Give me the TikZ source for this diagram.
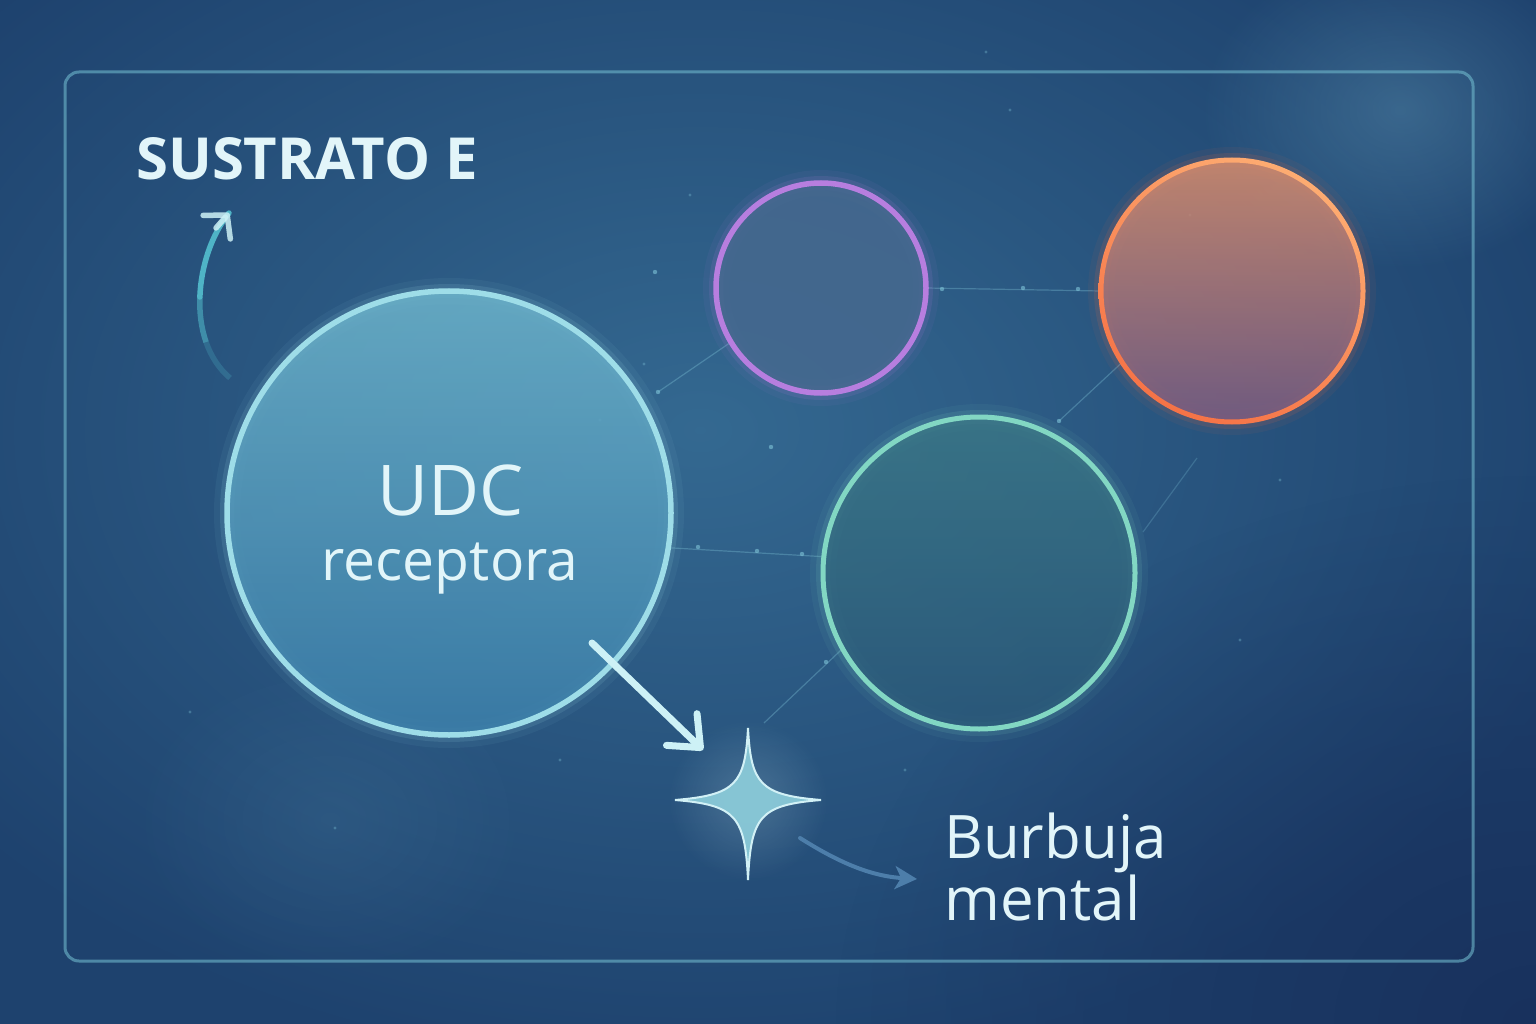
\documentclass[tikz,border=0pt]{standalone}
\usepackage{fontspec}
\setmainfont{Open Sans}
\usetikzlibrary{fadings,arrows.meta,shadings}
\pgfdeclarelayer{bg}
\pgfsetlayers{bg,main}
\tikzfading[name=softglow, inner color=transparent!0, outer color=transparent!100]
\definecolor{bgbase}{HTML}{1E426E}
\definecolor{bgglow}{HTML}{3A739A}
\definecolor{bgdark}{HTML}{162A56}
\definecolor{haze}{HTML}{6AA4C0}
\definecolor{framec}{HTML}{6FB8CC}
\definecolor{ringU}{HTML}{9EDDE8}
\definecolor{udcT}{HTML}{6BB1C9}
\definecolor{udcB}{HTML}{3B7EA9}
\definecolor{ringP}{HTML}{B77EDF}
\definecolor{fillP}{HTML}{46698F}
\definecolor{ringOa}{HTML}{FFB77A}
\definecolor{ringOb}{HTML}{F46A40}
\definecolor{fillOT}{HTML}{D98D6C}
\definecolor{fillOB}{HTML}{7C5C80}
\definecolor{ringG}{HTML}{82D7C3}
\definecolor{fillGT}{HTML}{3B7886}
\definecolor{fillGB}{HTML}{2A5878}
\definecolor{txt}{HTML}{E2F5F9}
\definecolor{lineC}{HTML}{7FC4D8}
\definecolor{arrL}{HTML}{CDF1F6}
\definecolor{arrT}{HTML}{4FB4C6}
\definecolor{arrD}{HTML}{4D7EAA}
\definecolor{starF}{HTML}{8ACAD8}
\definecolor{starE}{HTML}{D2F1F6}
\begin{document}
\begin{tikzpicture}[x=1pt,y=-1pt,
  bubble/.style={circle, inner sep=0pt, outer sep=0pt},
  faint/.style={draw=lineC, line width=1.2pt, opacity=0.35},
  dotc/.style={fill=lineC, opacity=0.6},
  lbl/.style={text=txt, inner sep=0pt},
  curvearr/.style={draw=arrT, line width=5.5pt},
]
\useasboundingbox (0,0) rectangle (1536,1024);

% ---------- bubbles ----------
\node[bubble, minimum size=444pt, draw=ringU, line width=5.5pt,
      top color=udcT, bottom color=udcB, fill opacity=0.88] (udc) at (449,513) {};
\node[bubble, minimum size=210pt, draw=ringP, line width=5.5pt,
      fill=fillP, fill opacity=0.85] (purple) at (821,288) {};
\node[bubble, minimum size=262pt, top color=fillOT, bottom color=fillOB,
      fill opacity=0.85] (orange) at (1232,291) {};
\shade[upper right=ringOa, upper left=ringOa!60!ringOb, lower left=ringOb,
       lower right=ringOb!70!ringOa, even odd rule]
  (orange.center) circle (133.5pt) (orange.center) circle (128.5pt);
\node[bubble, minimum size=312pt, draw=ringG, line width=5pt,
      top color=fillGT, bottom color=fillGB, fill opacity=0.8] (green) at (979,573) {};

% ---------- background layer ----------
\begin{pgfonlayer}{bg}
  \fill[bgbase] (0,0) rectangle (1536,1024);
  \fill[bgglow, path fading=softglow, opacity=0.8] (700,430) ellipse (950pt and 650pt);
  \fill[bgdark, path fading=softglow, opacity=0.7] (1536,1024) ellipse (700pt and 550pt);
  \fill[haze, path fading=softglow, opacity=0.35] (1400,110) ellipse (200pt and 160pt);
  \fill[haze, path fading=softglow, opacity=0.12] (330,820) ellipse (200pt and 160pt);
  % frame
  \draw[framec, line width=3pt, opacity=0.6, rounded corners=14pt] (65,72) rectangle (1473,961);
  % faint constellation lines
  \coordinate (p1) at (658,392);
  \coordinate (p2) at (1059,421);
  \coordinate (p3) at (764,723);
  \coordinate (p4) at (1197,458);
  \coordinate (p5) at (1143,532);
  \draw[faint] (purple.east) -- (orange.west);
  \draw[faint] (udc.-9) -- (green.174);
  \draw[faint] (p1) -- (purple.211);
  \draw[faint] (p2) -- (orange.213);
  \draw[faint] (green.209) -- (p3);
  \draw[faint, opacity=0.25] (p4) -- (p5);
  \foreach \p in {(942,289),(1023,288),(1078,289),(658,392),(1059,421),
                  (698,547),(757,551),(802,554),(826,662),(655,272),(771,447)}
    \fill[dotc] \p circle (2.2pt);
  \foreach \p in {(644,364),(986,52),(1190,215),(690,195),(600,420),(335,828),
                  (190,712),(1280,480),(905,770),(1010,110),(560,760),(1240,640)}
    \fill[dotc, opacity=0.35] \p circle (1.6pt);
  % glows
  \foreach \w/\o in {26/0.06,14/0.12}{
    \draw[ringU, line width=\w pt, opacity=\o] (udc.center) circle (222pt);
    \draw[ringP, line width=\w pt, opacity=\o] (purple.center) circle (105pt);
    \draw[ringOb, line width=\w pt, opacity=\o] (orange.center) circle (131pt);
    \draw[ringG, line width=\w pt, opacity=\o] (green.center) circle (156pt);
  }
  \fill[starE, path fading=softglow, opacity=0.2] (748,800) circle (80pt);
\end{pgfonlayer}

% ---------- texts ----------
\node[lbl, font=\fontsize{58}{60}\selectfont\bfseries, anchor=base west] (sub) at (136,180) {SUSTRATO E};
\node[lbl, font=\fontsize{70}{72}\selectfont, anchor=base] (udct) at (451,515) {UDC};
\node[lbl, font=\fontsize{57}{60}\selectfont, anchor=base] (rec) at (450,580) {receptora};
\node[lbl, font=\fontsize{60}{62}\selectfont, anchor=base west] (burb) at (944,858) {Burbuja};
\node[lbl, font=\fontsize{60}{62}\selectfont, anchor=base west] (ment) at (944,920) {mental};

% ---------- arrows ----------
% curved arrow, fading out towards its start
\coordinate (a1s) at (230,378);
\coordinate (a1m) at (206.07,342.1);
\coordinate (a1n) at (199.875,297);
\coordinate (a1e) at (229,213);
\draw[curvearr, opacity=0.25] (a1s) .. controls (218.75,368.5) and (210.94,356.06) .. (a1m);
\draw[curvearr, opacity=0.6] (a1m) .. controls (201.2,328.1) and (199.3,312.6) .. (a1n);
\draw[curvearr, line cap=round] (a1n) .. controls (201,265.75) and (212,234) .. (a1e);
\draw[arrL, line width=5.5pt, line cap=round, opacity=0.85,
      -{Straight Barb[length=16pt,width=36pt,round]}]
  (216,228) -- (a1e);

\coordinate (a2s) at (592,643);
\coordinate (a2e) at (703,750);
\draw[arrL, line width=7pt, line cap=round,
      -{Straight Barb[length=26pt,width=44pt,round]}] (a2s) -- (a2e);

\coordinate (a3s) at (800,838);
\coordinate (a3e) at (917,879);
\draw[arrD, line width=4pt, line cap=round,
      -{Stealth[length=22pt,width=23pt,inset=6pt]}]
  (a3s) .. controls (838,862) and (870,876) .. (a3e);

% ---------- star ----------
\coordinate (star) at (748,800);
\filldraw[fill=starF, draw=starE, line width=2pt, fill opacity=0.95]
  (748,728) .. controls (751,784) and (760,795) .. (821,800)
  .. controls (760,805) and (751,816) .. (748,880)
  .. controls (745,816) and (736,805) .. (675,800)
  .. controls (736,795) and (745,784) .. (748,728) -- cycle;
\end{tikzpicture}
\end{document}
